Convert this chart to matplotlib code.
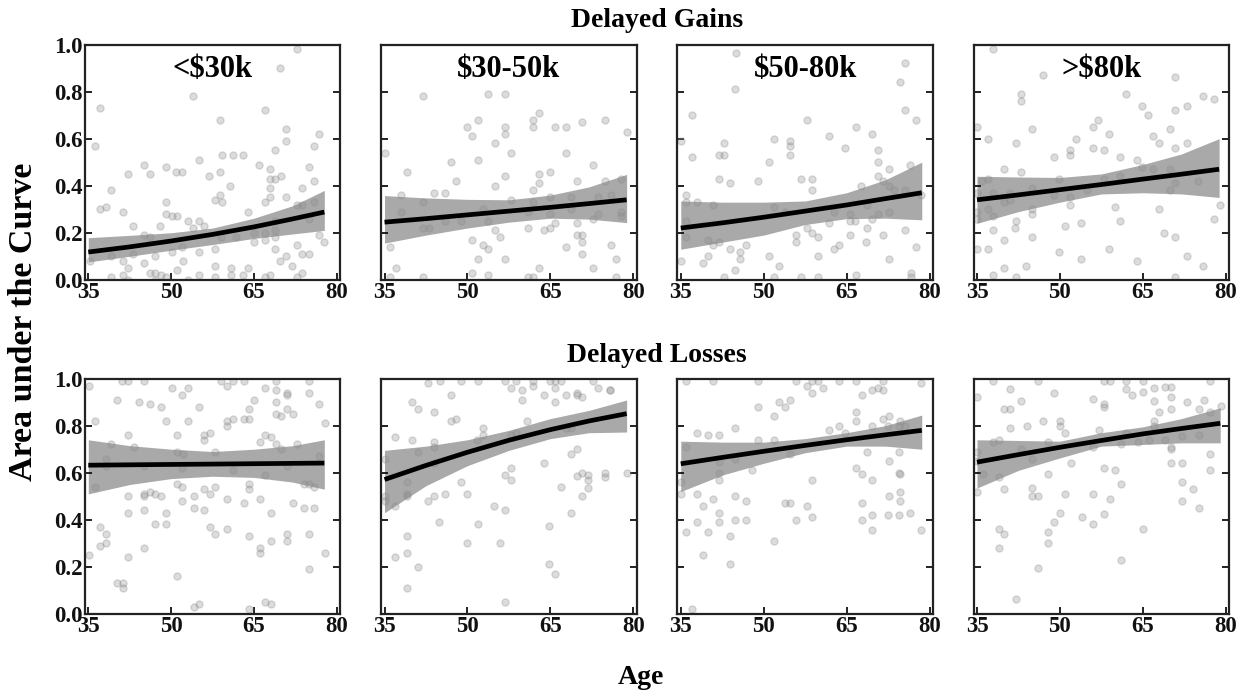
import matplotlib
matplotlib.use("Agg")
import matplotlib.pyplot as plt

# income groups (columns) and the two outcome rows
incomes = ["<$30k", "$30-50k", "$50-80k", ">$80k"]
row_titles = ["Delayed Gains", "Delayed Losses"]
age_ticks = [35, 50, 65, 80]
auc_ticks = [0.0, 0.2, 0.4, 0.6, 0.8, 1.0]

# ---- scatter data ----
# Delayed gains, <$30k
age_g1 = [72.7, 69.7, 54.0, 37.1, 66.9, 58.9, 70.8, 36.2, 70.8, 76.7, 75.8, 55.1, 45.1, 49.1, 46.2, 42.1,
          59.2, 61.2, 62.9, 65.8, 67.9, 75.0, 50.9, 52.0, 56.9, 58.9, 67.9, 68.8, 69.9, 68.8, 75.8, 39.1,
          60.6, 58.9, 67.8, 73.7, 38.2, 37.1, 49.1, 57.9, 59.1, 67.8, 66.9, 70.8, 72.7, 73.7, 75.8, 41.2,
          49.1, 50.1, 51.0, 63.9, 43.1, 53.0, 55.1, 56.0, 54.0, 48.0, 45.1, 46.2, 59.0, 61.8, 64.9, 66.9,
          68.8, 68.8, 66.9, 64.9, 68.8, 76.7, 77.7, 75.0, 39.1, 43.1, 47.1, 50.1, 51.9, 55.1, 57.9, 52.1,
          35.3, 41.2, 42.1, 45.1, 68.8, 70.8, 69.7, 72.7, 73.7, 75.0, 71.8, 73.7, 57.9, 60.9, 63.9, 46.2,
          47.1, 48.1, 51.0, 41.2, 39.1, 42.1, 47.1, 49.1, 53.0, 55.1, 57.9, 60.9, 62.9, 66.9, 67.8, 72.7]
auc_g1 = [0.98, 0.90, 0.78, 0.73, 0.72, 0.68, 0.64, 0.57, 0.59, 0.62, 0.57, 0.51, 0.49, 0.48, 0.45, 0.45,
          0.53, 0.53, 0.53, 0.49, 0.47, 0.48, 0.46, 0.46, 0.44, 0.46, 0.43, 0.43, 0.44, 0.55, 0.42, 0.38,
          0.40, 0.36, 0.39, 0.39, 0.31, 0.30, 0.33, 0.34, 0.33, 0.35, 0.33, 0.35, 0.32, 0.32, 0.33, 0.29,
          0.28, 0.27, 0.27, 0.29, 0.23, 0.25, 0.25, 0.23, 0.22, 0.23, 0.19, 0.18, 0.18, 0.18, 0.20, 0.20,
          0.21, 0.18, 0.17, 0.16, 0.25, 0.19, 0.16, 0.26, 0.10, 0.11, 0.10, 0.12, 0.14, 0.12, 0.13, 0.08,
          0.08, 0.08, 0.05, 0.07, 0.13, 0.10, 0.08, 0.15, 0.11, 0.11, 0.06, 0.03, 0.06, 0.05, 0.05, 0.03,
          0.03, 0.02, 0.04, 0.02, 0.01, 0.00, 0.00, 0.01, 0.00, 0.02, 0.01, 0.02, 0.02, 0.01, 0.02, 0.01]

# Delayed gains, $30-50k
age_g2 = [41.9, 53.8, 56.8, 52.0, 49.9, 50.9, 61.9, 61.9, 62.9, 56.8, 56.8, 65.8, 67.8, 70.8, 74.8, 78.8,
          35.0, 54.9, 57.9, 67.8, 52.0, 47.0, 72.8, 39.0, 56.8, 62.9, 64.9, 47.9, 54.9, 62.9, 61.9, 69.8,
          74.8, 77.8, 43.9, 45.9, 37.9, 57.9, 61.9, 64.9, 68.8, 73.7, 75.9, 41.9, 37.9, 52.9, 60.9, 64.9,
          68.8, 77.8, 77.8, 45.9, 48.9, 53.8, 69.8, 72.8, 73.7, 41.9, 43.0, 60.9, 63.9, 64.9, 65.8, 54.9,
          70.8, 69.8, 50.9, 55.8, 70.8, 52.9, 53.8, 67.8, 75.9, 36.0, 52.0, 56.8, 70.8, 76.9, 37.0, 50.9,
          62.9, 72.8, 41.9, 53.8, 60.9, 61.9, 76.9, 36.0]
auc_g2 = [0.78, 0.79, 0.79, 0.68, 0.65, 0.61, 0.68, 0.65, 0.71, 0.65, 0.62, 0.65, 0.65, 0.67, 0.68, 0.63,
          0.54, 0.58, 0.54, 0.54, 0.51, 0.50, 0.49, 0.46, 0.44, 0.45, 0.46, 0.42, 0.40, 0.41, 0.38, 0.42,
          0.42, 0.43, 0.37, 0.37, 0.36, 0.34, 0.33, 0.35, 0.35, 0.35, 0.36, 0.33, 0.29, 0.30, 0.29, 0.28,
          0.30, 0.29, 0.27, 0.25, 0.25, 0.25, 0.24, 0.26, 0.28, 0.22, 0.22, 0.22, 0.21, 0.22, 0.24, 0.21,
          0.19, 0.19, 0.17, 0.18, 0.16, 0.15, 0.13, 0.14, 0.15, 0.14, 0.09, 0.09, 0.11, 0.09, 0.05, 0.03,
          0.05, 0.05, 0.01, 0.02, 0.01, 0.01, 0.01, 0.01]

# Delayed gains, $50-80k
age_g3 = [45.0, 75.5, 74.6, 44.8, 75.5, 77.5, 37.0, 57.8, 66.7, 61.8, 69.6, 51.9, 54.8, 54.8, 54.8, 42.9,
          35.0, 64.7, 70.6, 37.0, 41.9, 42.9, 50.9, 70.6, 72.6, 76.5, 70.6, 41.9, 43.9, 48.9, 56.8, 58.7,
          58.7, 67.6, 71.5, 72.6, 73.6, 75.5, 78.5, 36.0, 36.0, 38.0, 40.9, 51.8, 53.8, 62.7, 65.7, 68.7,
          70.6, 72.6, 69.6, 66.6, 65.7, 61.8, 36.0, 57.8, 75.5, 58.7, 59.8, 55.8, 55.8, 65.7, 68.7, 71.5,
          36.0, 40.0, 40.9, 41.9, 46.8, 43.9, 45.8, 62.7, 63.6, 68.6, 77.5, 40.0, 45.8, 50.9, 59.8, 72.6,
          35.0, 39.0, 52.8, 44.9, 42.9, 51.8, 56.8, 59.8, 66.7, 76.6, 76.6]
auc_g3 = [0.965, 0.92, 0.84, 0.81, 0.72, 0.68, 0.70, 0.68, 0.65, 0.61, 0.62, 0.60, 0.59, 0.57, 0.53, 0.58,
          0.59, 0.56, 0.55, 0.52, 0.53, 0.53, 0.50, 0.50, 0.47, 0.49, 0.44, 0.43, 0.41, 0.42, 0.43, 0.43,
          0.38, 0.40, 0.42, 0.40, 0.38, 0.38, 0.36, 0.36, 0.33, 0.33, 0.32, 0.31, 0.29, 0.29, 0.28, 0.32,
          0.28, 0.29, 0.26, 0.25, 0.25, 0.24, 0.25, 0.22, 0.21, 0.20, 0.18, 0.19, 0.16, 0.19, 0.22, 0.19,
          0.18, 0.17, 0.15, 0.16, 0.15, 0.13, 0.12, 0.13, 0.15, 0.16, 0.14, 0.10, 0.09, 0.10, 0.10, 0.09,
          0.08, 0.07, 0.06, 0.04, 0.01, 0.01, 0.01, 0.01, 0.02, 0.03, 0.01]

# Delayed gains, >$80k
age_g4 = [37.9, 46.9, 70.9, 42.9, 42.9, 61.9, 75.9, 77.9, 64.9, 72.9, 70.9, 65.9, 56.9, 55.9, 35.0, 44.9,
          69.9, 58.9, 66.9, 52.9, 36.9, 42.0, 67.9, 72.9, 55.9, 57.9, 51.9, 51.9, 48.9, 70.9, 60.9, 64.0,
          64.9, 39.9, 42.9, 66.9, 69.9, 35.9, 36.9, 49.9, 57.9, 60.9, 74.9, 70.9, 35.0, 37.9, 40.9, 44.9,
          48.9, 54.9, 51.9, 39.9, 40.9, 69.9, 51.9, 78.9, 35.0, 36.9, 37.9, 44.9, 44.9, 59.9, 67.9, 35.0,
          42.0, 41.9, 50.9, 53.9, 60.9, 77.9, 37.9, 68.9, 70.9, 39.9, 44.9, 35.0, 36.9, 49.9, 58.9, 53.9,
          64.0, 72.9, 75.9, 43.9, 39.9, 37.9, 42.0, 70.9]
auc_g4 = [0.98, 0.87, 0.86, 0.79, 0.76, 0.79, 0.78, 0.77, 0.74, 0.74, 0.72, 0.70, 0.68, 0.65, 0.65, 0.64,
          0.64, 0.62, 0.61, 0.60, 0.60, 0.58, 0.58, 0.58, 0.56, 0.55, 0.55, 0.53, 0.52, 0.56, 0.52, 0.51,
          0.48, 0.47, 0.46, 0.47, 0.47, 0.42, 0.43, 0.43, 0.43, 0.44, 0.42, 0.41, 0.37, 0.37, 0.37, 0.39,
          0.36, 0.38, 0.35, 0.33, 0.34, 0.38, 0.32, 0.32, 0.29, 0.30, 0.27, 0.30, 0.28, 0.31, 0.30, 0.26,
          0.25, 0.22, 0.23, 0.24, 0.25, 0.26, 0.21, 0.20, 0.18, 0.17, 0.18, 0.13, 0.13, 0.12, 0.13, 0.09,
          0.08, 0.10, 0.06, 0.06, 0.05, 0.02, 0.01, 0.01]

# Delayed losses, <$30k
age_l1 = [35.2, 41.1, 42.2, 45.1, 50.2, 53.1, 52.0, 40.2, 44.2, 46.1, 48.2, 55.1, 59.0, 60.1, 61.1, 63.1,
          65.0, 67.0, 68.9, 68.9, 68.9, 70.9, 70.9, 74.9, 74.9, 76.8, 36.2, 49.1, 53.1, 60.1, 61.1, 60.1,
          63.1, 64.0, 64.0, 68.9, 69.8, 70.9, 72.0, 77.8, 42.2, 51.1, 56.0, 57.0, 56.0, 66.0, 67.0, 68.0,
          39.2, 43.2, 58.0, 51.1, 52.1, 68.9, 69.8, 72.8, 38.2, 38.2, 45.1, 76.8, 52.0, 61.1, 70.9, 67.0,
          36.2, 51.1, 52.0, 56.0, 58.0, 64.0, 64.0, 74.0, 74.9, 75.9, 42.2, 45.1, 45.1, 46.1, 47.1, 48.2,
          54.1, 57.0, 60.1, 66.0, 52.0, 42.2, 45.1, 49.1, 54.1, 56.0, 63.1, 68.0, 72.0, 74.0, 75.9, 37.1,
          38.2, 47.1, 49.1, 57.0, 58.0, 60.1, 64.0, 70.9, 70.9, 74.9, 37.1, 38.2, 66.0, 66.0, 68.0, 77.8,
          35.2, 45.1, 42.2, 74.9, 51.1, 40.2, 41.2, 41.2, 54.1, 55.1, 64.0, 67.0, 68.0]
auc_l1 = [0.97, 0.99, 0.99, 0.99, 0.96, 0.96, 0.93, 0.91, 0.90, 0.89, 0.88, 0.88, 0.99, 0.97, 0.99, 0.99,
          0.91, 0.96, 0.99, 0.95, 0.90, 0.94, 0.93, 0.94, 0.99, 0.89, 0.82, 0.82, 0.82, 0.82, 0.83, 0.80,
          0.83, 0.83, 0.87, 0.85, 0.84, 0.87, 0.85, 0.81, 0.76, 0.76, 0.74, 0.77, 0.76, 0.73, 0.76, 0.75,
          0.72, 0.71, 0.69, 0.69, 0.68, 0.72, 0.70, 0.72, 0.66, 0.63, 0.63, 0.67, 0.62, 0.61, 0.63, 0.59,
          0.54, 0.55, 0.54, 0.53, 0.54, 0.55, 0.53, 0.55, 0.55, 0.54, 0.50, 0.51, 0.50, 0.52, 0.51, 0.50,
          0.50, 0.51, 0.49, 0.49, 0.48, 0.43, 0.44, 0.43, 0.45, 0.44, 0.47, 0.43, 0.47, 0.45, 0.45, 0.37,
          0.34, 0.38, 0.38, 0.37, 0.34, 0.36, 0.33, 0.34, 0.31, 0.34, 0.29, 0.30, 0.28, 0.26, 0.31, 0.26,
          0.25, 0.28, 0.24, 0.19, 0.16, 0.13, 0.13, 0.11, 0.03, 0.04, 0.02, 0.05, 0.04]

# Delayed losses, $30-50k
age_l2 = [42.9, 45.0, 48.9, 52.0, 56.8, 58.8, 61.9, 61.9, 64.9, 65.8, 66.9, 65.8, 72.8, 57.9, 59.9, 47.0,
          63.8, 67.8, 69.8, 69.8, 70.8, 73.7, 75.7, 75.7, 59.9, 65.8, 40.0, 41.0, 43.9, 47.0, 47.9, 60.8,
          52.9, 67.8, 68.8, 36.9, 40.0, 43.9, 43.9, 51.8, 52.9, 58.8, 57.9, 41.0, 68.8, 69.8, 35.0, 43.9,
          63.8, 56.8, 57.9, 57.9, 70.8, 69.8, 71.8, 71.8, 71.8, 74.8, 74.8, 78.8, 66.9, 70.8, 39.0, 48.9,
          39.0, 39.0, 35.0, 35.0, 36.9, 42.9, 43.9, 45.9, 49.9, 54.8, 56.8, 68.8, 44.9, 51.9, 64.8, 39.0,
          36.9, 39.0, 41.0, 49.9, 55.9, 64.8, 65.8, 39.0, 56.8]
auc_l2 = [0.98, 0.99, 0.99, 0.99, 0.99, 0.99, 0.99, 0.97, 0.99, 0.99, 0.99, 0.96, 0.99, 0.96, 0.95, 0.93,
          0.93, 0.93, 0.94, 0.93, 0.92, 0.96, 0.95, 0.95, 0.91, 0.90, 0.90, 0.87, 0.86, 0.82, 0.83, 0.82,
          0.79, 0.79, 0.79, 0.75, 0.74, 0.73, 0.71, 0.74, 0.76, 0.77, 0.76, 0.69, 0.68, 0.70, 0.66, 0.64,
          0.64, 0.59, 0.62, 0.57, 0.60, 0.585, 0.59, 0.57, 0.535, 0.60, 0.58, 0.60, 0.54, 0.50, 0.56, 0.56,
          0.51, 0.50, 0.50, 0.48, 0.46, 0.48, 0.50, 0.51, 0.51, 0.46, 0.44, 0.43, 0.39, 0.38, 0.375, 0.33,
          0.24, 0.26, 0.20, 0.30, 0.30, 0.21, 0.17, 0.11, 0.05]

# Delayed losses, $50-80k
age_l3 = [36.0, 40.9, 48.9, 55.8, 57.8, 58.7, 59.8, 63.7, 66.7, 71.5, 78.5, 60.7, 58.7, 67.7, 69.6, 70.6,
          71.5, 52.8, 53.8, 54.8, 48.9, 51.8, 66.7, 66.7, 71.5, 72.6, 74.6, 44.9, 38.0, 40.0, 41.9, 61.8,
          63.7, 64.7, 69.6, 72.5, 74.5, 75.6, 36.0, 48.9, 51.8, 54.8, 44.9, 41.9, 47.9, 68.7, 74.5, 72.6,
          66.7, 67.7, 74.6, 74.5, 69.6, 41.9, 41.9, 58.7, 35.0, 35.0, 38.0, 40.9, 39.0, 44.9, 46.8, 53.8,
          54.8, 57.8, 72.6, 74.6, 74.6, 67.7, 41.9, 41.9, 38.0, 44.9, 46.8, 55.8, 58.7, 67.7, 69.6, 72.5,
          74.5, 76.5, 36.0, 40.0, 69.6, 78.5, 43.9, 51.8, 39.0, 43.9, 37.0]
auc_l3 = [0.99, 0.99, 0.99, 0.99, 0.97, 0.99, 0.99, 0.99, 0.99, 0.99, 0.98, 0.96, 0.94, 0.93, 0.95, 0.96,
          0.95, 0.90, 0.88, 0.91, 0.88, 0.84, 0.86, 0.82, 0.83, 0.84, 0.82, 0.79, 0.77, 0.76, 0.76, 0.78,
          0.80, 0.77, 0.80, 0.80, 0.80, 0.80, 0.71, 0.74, 0.74, 0.68, 0.66, 0.645, 0.61, 0.69, 0.69, 0.65,
          0.62, 0.595, 0.595, 0.60, 0.57, 0.60, 0.57, 0.57, 0.56, 0.51, 0.51, 0.49, 0.46, 0.50, 0.48, 0.47,
          0.47, 0.46, 0.50, 0.52, 0.48, 0.47, 0.43, 0.39, 0.39, 0.40, 0.40, 0.40, 0.41, 0.40, 0.42, 0.42,
          0.42, 0.43, 0.35, 0.35, 0.355, 0.355, 0.33, 0.31, 0.25, 0.21, 0.02]

# Delayed losses, >$80k
age_l4 = [37.9, 46.0, 57.9, 59.0, 61.97, 65.0, 77.1, 62.0, 41.0, 67.1, 69.0, 70.1, 65.0, 63.0, 48.9, 35.0,
          56.0, 70.1, 43.0, 57.9, 57.9, 39.9, 41.0, 67.0, 73.0, 76.1, 68.0, 70.1, 75.1, 77.1, 79.1, 47.0,
          50.0, 50.0, 44.0, 41.0, 67.1, 67.0, 50.9, 57.0, 62.0, 38.9, 37.9, 47.9, 56.0, 61.0, 64.1, 66.1,
          69.0, 72.0, 75.1, 70.1, 70.1, 35.0, 43.0, 44.9, 52.0, 35.0, 70.1, 72.0, 77.1, 36.0, 47.9, 57.9,
          60.0, 77.1, 38.9, 61.0, 72.0, 35.0, 39.9, 44.9, 44.9, 46.0, 50.9, 56.0, 59.0, 72.0, 74.0, 75.1,
          50.0, 54.0, 57.9, 48.9, 56.0, 38.9, 39.9, 47.9, 65.0, 47.9, 38.9, 61.0, 46.0, 42.0]
auc_l4 = [0.99, 0.99, 0.99, 0.99, 0.99, 0.99, 0.99, 0.955, 0.955, 0.96, 0.965, 0.965, 0.945, 0.93, 0.94, 0.92,
          0.915, 0.92, 0.905, 0.89, 0.88, 0.87, 0.87, 0.905, 0.90, 0.91, 0.86, 0.87, 0.87, 0.86, 0.885, 0.82,
          0.82, 0.80, 0.80, 0.79, 0.82, 0.80, 0.77, 0.78, 0.77, 0.74, 0.73, 0.73, 0.71, 0.72, 0.73, 0.74,
          0.74, 0.755, 0.76, 0.71, 0.70, 0.69, 0.70, 0.66, 0.64, 0.65, 0.64, 0.64, 0.68, 0.595, 0.595, 0.62,
          0.61, 0.61, 0.58, 0.55, 0.56, 0.52, 0.53, 0.535, 0.50, 0.50, 0.51, 0.51, 0.49, 0.48, 0.53, 0.45,
          0.43, 0.41, 0.425, 0.39, 0.38, 0.36, 0.34, 0.35, 0.36, 0.30, 0.28, 0.23, 0.195, 0.064]

# ---- fitted curve and 95% band, read at a few ages ----
fit_age = [[35, 42.5, 50, 57.5, 65, 72, 77.7], [35, 42.5, 50, 57.5, 65, 72, 78.8],
           [35, 42.5, 50, 57.5, 65, 72, 78.6], [35, 42.5, 50, 57.5, 65, 72, 78.8],
           [35, 42.5, 50, 57.5, 65, 72, 77.7], [35, 42.5, 50, 57.5, 65, 72, 78.8],
           [35, 42.5, 50, 57.5, 65, 72, 78.6], [35, 42.5, 50, 57.5, 65, 72, 79.0]]
fit_mid = [[0.118, 0.140, 0.165, 0.193, 0.225, 0.259, 0.288],
           [0.245, 0.260, 0.276, 0.292, 0.308, 0.324, 0.34],
           [0.22, 0.242, 0.266, 0.292, 0.318, 0.345, 0.37],
           [0.34, 0.361, 0.383, 0.405, 0.428, 0.449, 0.47],
           [0.632, 0.6336, 0.6352, 0.6367, 0.6383, 0.6398, 0.641],
           [0.571, 0.631, 0.687, 0.738, 0.783, 0.820, 0.851],
           [0.638, 0.665, 0.691, 0.716, 0.740, 0.761, 0.78],
           [0.645, 0.677, 0.708, 0.737, 0.765, 0.788, 0.81]]
fit_hi = [[0.179, 0.189, 0.20, 0.22, 0.262, 0.315, 0.38],
          [0.358, 0.348, 0.342, 0.34, 0.36, 0.395, 0.448],
          [0.335, 0.33, 0.33, 0.335, 0.37, 0.425, 0.50],
          [0.44, 0.437, 0.435, 0.45, 0.49, 0.535, 0.60],
          [0.74, 0.715, 0.70, 0.69, 0.70, 0.715, 0.74],
          [0.695, 0.713, 0.74, 0.78, 0.83, 0.865, 0.909],
          [0.734, 0.73, 0.73, 0.745, 0.77, 0.80, 0.845],
          [0.74, 0.737, 0.734, 0.77, 0.795, 0.83, 0.876]]
fit_lo = [[0.076, 0.10, 0.126, 0.15, 0.176, 0.195, 0.21],
          [0.156, 0.19, 0.22, 0.245, 0.262, 0.258, 0.243],
          [0.13, 0.16, 0.19, 0.235, 0.26, 0.262, 0.255],
          [0.24, 0.29, 0.33, 0.365, 0.37, 0.365, 0.35],
          [0.51, 0.55, 0.575, 0.585, 0.58, 0.56, 0.53],
          [0.43, 0.545, 0.63, 0.695, 0.745, 0.77, 0.773],
          [0.52, 0.59, 0.64, 0.685, 0.713, 0.713, 0.70],
          [0.535, 0.61, 0.663, 0.713, 0.72, 0.727, 0.727]]

ages = [age_g1, age_g2, age_g3, age_g4, age_l1, age_l2, age_l3, age_l4]
aucs = [auc_g1, auc_g2, auc_g3, auc_g4, auc_l1, auc_l2, auc_l3, auc_l4]

plt.rcParams["font.family"] = ["Liberation Serif", "DejaVu Serif"]
plt.rcParams["font.weight"] = "bold"

fig, axes = plt.subplots(2, 4, figsize=(12.44, 6.96), dpi=100)
fig.subplots_adjust(left=0.0683, right=0.988, top=0.936, bottom=0.118,
                    wspace=0.16, hspace=0.42)

for i, ax in enumerate(axes.flat):
    row, col = divmod(i, 4)
    ax.fill_between(fit_age[i], fit_lo[i], fit_hi[i], color="#a9a9a9", lw=0, zorder=1)
    ax.scatter(ages[i], aucs[i], s=26, color="#8c8c8c", alpha=0.3, linewidths=1, zorder=2)
    ax.plot(fit_age[i], fit_mid[i], color="black", lw=3.4, solid_capstyle="butt",
            solid_joinstyle="round", zorder=3)

    ax.set_xlim(34.4, 80.6)
    ax.set_ylim(0, 1)
    ax.set_xticks(age_ticks)
    ax.set_yticks(auc_ticks)
    ax.tick_params(direction="in", length=5, width=1.3, right=True, pad=1.5,
                   labelsize=16.5, colors="#111111")
    if col != 0:
        ax.set_yticklabels([])
    for sp in ax.spines.values():
        sp.set_linewidth(1.6)
        sp.set_color("#222222")
    if row == 0:
        ax.text(0.5, 0.895, incomes[col], transform=ax.transAxes, ha="center", va="center",
                fontsize=22, fontweight="bold")

fig.text(0.528, 0.971, row_titles[0], ha="center", va="center", fontsize=20, fontweight="bold")
fig.text(0.528, 0.489, row_titles[1], ha="center", va="center", fontsize=20, fontweight="bold")
fig.text(0.515, 0.027, "Age", ha="center", va="center", fontsize=20, fontweight="bold")
fig.text(0.019, 0.537, "Area under the Curve", rotation=90, ha="center", va="center",
         fontsize=24.5, fontweight="bold")

fig.savefig("out.png", dpi=100)
